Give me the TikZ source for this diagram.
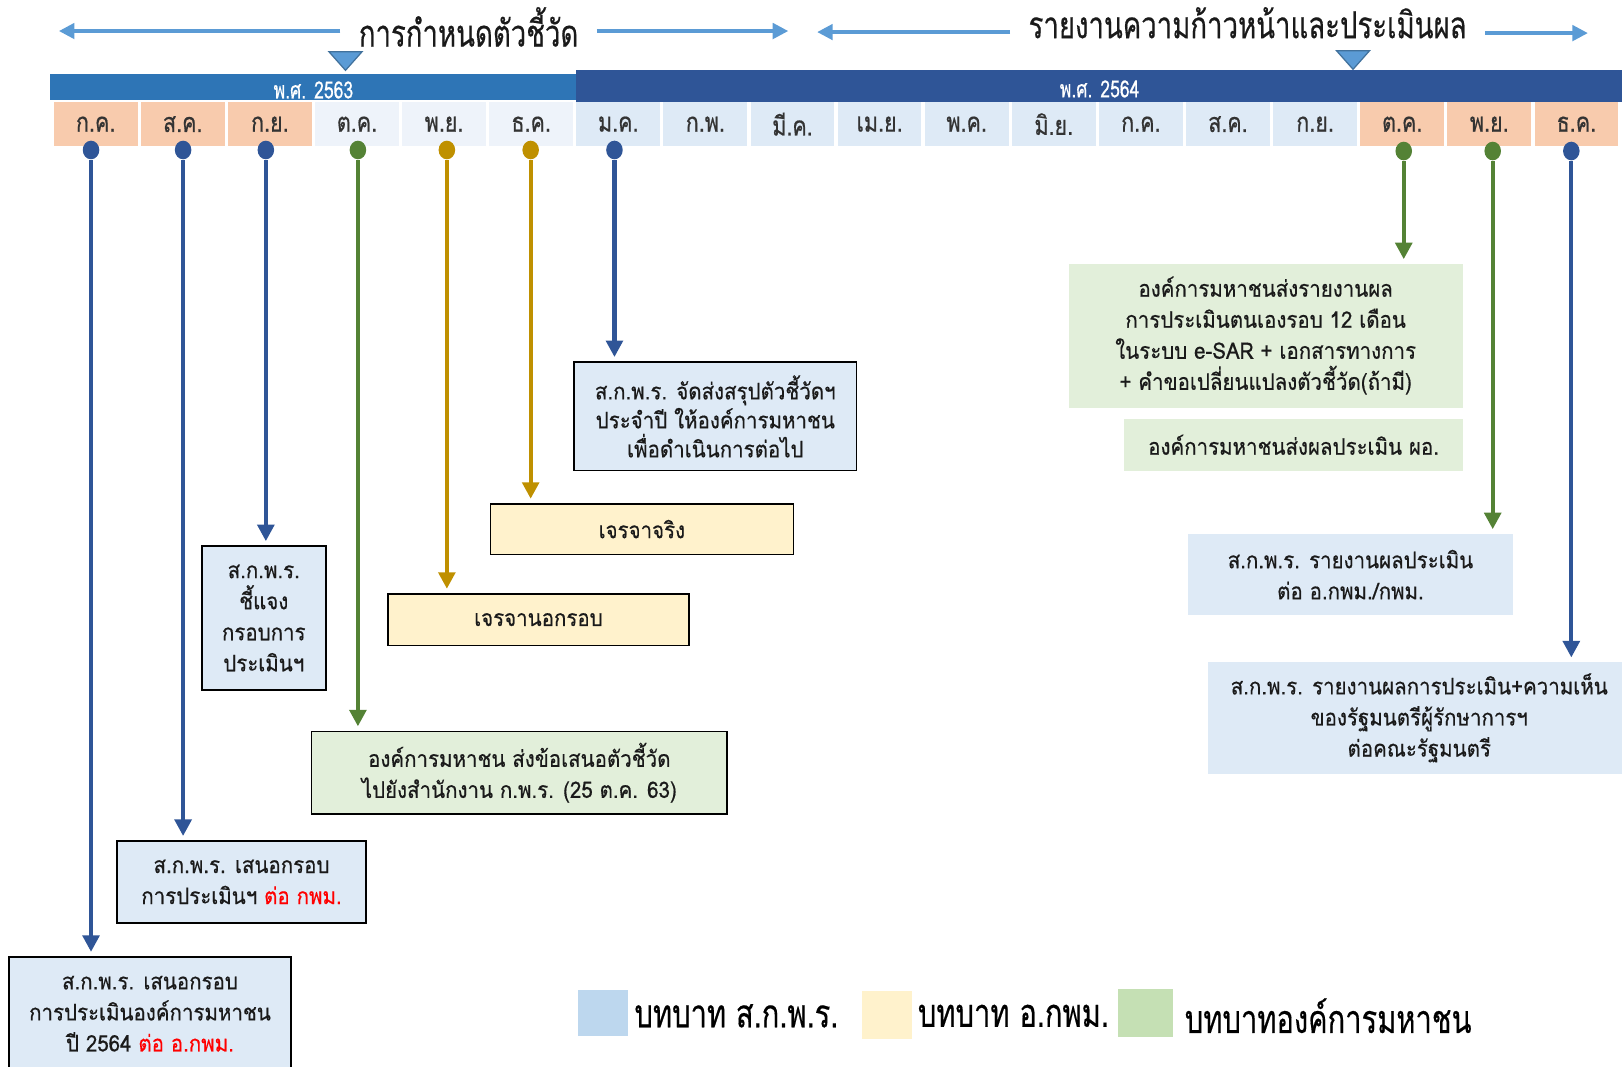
\documentclass[tikz,border=0pt]{standalone}
\usepackage{fontspec}
\usetikzlibrary{arrows.meta,calc}
\newfontfamily\thai[Script=Thai,FakeStretch=0.9,FakeBold=0.5]{Loma}
\newfontfamily\thaic[Script=Thai,FakeStretch=0.74,FakeBold=0.4]{Loma}
\newfontfamily\thaim[Script=Thai,FakeStretch=0.8,FakeBold=0.6]{Loma}
\newcommand\boxfont{\thai\fontsize{11}{15}\selectfont}
\definecolor{harrow}{HTML}{5B9BD5}
\definecolor{harrowd}{HTML}{41719C}
\definecolor{barA}{HTML}{2E75B6}
\definecolor{barB}{HTML}{2F5597}
\definecolor{peach}{HTML}{F8CBAD}
\definecolor{cellA}{HTML}{EEF3FA}
\definecolor{cellB}{HTML}{DEEAF6}
\definecolor{lblue}{HTML}{2F5597}
\definecolor{lgreen}{HTML}{548235}
\definecolor{lgold}{HTML}{BF9000}
\definecolor{fblue}{HTML}{DEEAF6}
\definecolor{fgreen}{HTML}{E2EFDA}
\definecolor{fyellow}{HTML}{FFF2CC}
\definecolor{legblue}{HTML}{BDD7EE}
\definecolor{leggreen}{HTML}{C5E0B4}
\definecolor{txt}{HTML}{1A1A1A}
\definecolor{mtxt}{HTML}{333333}
\tikzset{
  hdr/.style={font=\thaic\fontsize{18}{20}\selectfont, text=txt, inner sep=0pt, outer sep=9pt},
  harr/.style={draw=harrow, line width=1.6pt, -{Triangle[width=7.5pt,length=7.5pt]}},
  marker/.style={fill=harrow, draw=harrowd, line width=0.6pt},
  cell/.style={minimum width=40.5pt, minimum height=21pt, inner sep=0pt, font=\thaim\fontsize{13}{14}\selectfont, text=mtxt},
  yearlbl/.style={font=\thaic\fontsize{11.5}{12}\selectfont, text=white, inner sep=0pt},
  dot/.style={ellipse, minimum width=8pt, minimum height=9pt, inner sep=0pt},
  arr/.style={line width=2pt, -{Triangle[width=8pt,length=8pt]}, shorten >=2pt},
  bbox/.style={draw=black, line width=0.8pt, inner sep=0pt, align=center, font=\boxfont, text=txt},
  nbox/.style={inner sep=0pt, align=center, font=\boxfont, text=txt},
  legsq/.style={minimum width=24pt, minimum height=22pt, inner sep=0pt},
  legtxt/.style={font=\thaic\fontsize{19}{20}\selectfont, text=black, inner sep=0pt, anchor=west},
}
\usetikzlibrary{shapes.geometric}
\begin{document}
\begin{tikzpicture}[x=0.5pt,y=-0.5pt]
\useasboundingbox (0,0) rectangle (1568,1031);
% header
\node[hdr] (h1) at (453,26) {การกำหนดตัวชี้วัด};
\coordinate (h1l) at (57,30);
\coordinate (h1r) at (762,30);
\draw[harr] (h1.west |- h1l) -- (h1l);
\draw[harr] (h1.east |- h1r) -- (h1r);
\node[hdr] (h2) at (1206,22) {รายงานความก้าวหน้าและประเมินผล};
\coordinate (h2l) at (790,31);
\coordinate (h2r) at (1535,32);
\draw[harr] (h2.west |- h2l) -- (h2l);
\draw[harr] (h2.east |- h2r) -- (h2r);
% year bars
\fill[barA] (48,72) rectangle (557,97);
\fill[barB] (557,68) rectangle (1568,99);
\node[yearlbl] (y1) at (303,87) {พ.ศ. 2563};
\node[yearlbl] (y2) at (1063,86) {พ.ศ. 2564};
% markers
\path[marker] (318,50) -- (350,50) -- (334,68) -- cycle;
\path[marker] (1292,49) -- (1324,49) -- (1308,67) -- cycle;
% months
\foreach \m/\c [count=\i from 0] in {ก.ค./peach,ส.ค./peach,ก.ย./peach,ต.ค./cellA,พ.ย./cellA,ธ.ค./cellA,ม.ค./cellB,ก.พ./cellB,มี.ค./cellB,เม.ย./cellB,พ.ค./cellB,มิ.ย./cellB,ก.ค./cellB,ส.ค./cellB,ก.ย./cellB,ต.ค./peach,พ.ย./peach,ธ.ค./peach}
  \node[cell, fill=\c] (m\i) at ({52+84.2*\i+40.5},120) {\m};
% dots
\node[dot, fill=lblue] (d1) at (88,145) {};
\node[dot, fill=lblue] (d2) at (177,145) {};
\node[dot, fill=lblue] (d3) at (257,145) {};
\node[dot, fill=lgreen] (d4) at (346,145) {};
\node[dot, fill=lgold] (d5) at (432,145) {};
\node[dot, fill=lgold] (d6) at (513,145) {};
\node[dot, fill=lblue] (d7) at (594,145) {};
\node[dot, fill=lgreen] (d8) at (1357,146) {};
\node[dot, fill=lgreen] (d9) at (1443,146) {};
\node[dot, fill=lblue] (d10) at (1519,146) {};
% boxes
\node[bbox, fill=fblue, minimum width=136pt, minimum height=55pt] (b1) at (145,980)
  {ส.ก.พ.ร. เสนอกรอบ\\การประเมินองค์การมหาชน\\ปี 2564 \textcolor{red}{ต่อ อ.กพม.}};
\node[bbox, fill=fblue, minimum width=120.5pt, minimum height=39.5pt] (b2) at (233.5,852.5)
  {ส.ก.พ.ร. เสนอกรอบ\\การประเมินฯ \textcolor{red}{ต่อ กพม.}};
\node[bbox, fill=fblue, minimum width=60pt, minimum height=69.5pt] (b3) at (255,597.5)
  {ส.ก.พ.ร.\\ชี้แจง\\กรอบการ\\ประเมินฯ};
\node[bbox, fill=fgreen, minimum width=201pt, minimum height=40pt] (b4) at (502,747)
  {องค์การมหาชน ส่งข้อเสนอตัวชี้วัด\\ไปยังสำนักงาน ก.พ.ร. (25 ต.ค. 63)};
\node[bbox, fill=fyellow, minimum width=145.5pt, minimum height=25pt] (b5) at (520.5,599)
  {เจรจานอกรอบ};
\node[bbox, fill=fyellow, minimum width=146.5pt, minimum height=24.5pt] (b6) at (620.5,511.5)
  {เจรจาจริง};
\node[bbox, fill=fblue, minimum width=136.5pt, minimum height=52.5pt, font=\thai\fontsize{11}{14}\selectfont] (b7) at (691.5,402.5)
  {ส.ก.พ.ร. จัดส่งสรุปตัวชี้วัดฯ\\ประจำปี ให้องค์การมหาชน\\เพื่อดำเนินการต่อไป};
\node[nbox, fill=fgreen, minimum width=190.5pt, minimum height=69.5pt] (b8) at (1223.5,324.5)
  {องค์การมหาชนส่งรายงานผล\\การประเมินตนเองรอบ 12 เดือน\\ในระบบ e-SAR + เอกสารทางการ\\+ คำขอเปลี่ยนแปลงตัวชี้วัด(ถ้ามี)};
\node[nbox, fill=fgreen, minimum width=163.5pt, minimum height=25pt] (b8b) at (1250.5,430)
  {องค์การมหาชนส่งผลประเมิน ผอ.};
\node[nbox, fill=fblue, minimum width=157.5pt, minimum height=39.5pt] (b9) at (1305.5,555.5)
  {ส.ก.พ.ร. รายงานผลประเมิน\\ต่อ อ.กพม./กพม.};
\node[nbox, fill=fblue, minimum width=204pt, minimum height=54pt] (b10) at (1372,694)
  {ส.ก.พ.ร. รายงานผลการประเมิน+ความเห็น\\ของรัฐมนตรีผู้รักษาการฯ\\ต่อคณะรัฐมนตรี};
% connectors
\draw[arr, lblue] (d1.south) -- (d1 |- b1.north);
\draw[arr, lblue] (d2.south) -- (d2 |- b2.north);
\draw[arr, lblue] (d3.south) -- (d3 |- b3.north);
\draw[arr, lgreen] (d4.south) -- (d4 |- b4.north);
\draw[arr, lgold] (d5.south) -- (d5 |- b5.north);
\draw[arr, lgold] (d6.south) -- (d6 |- b6.north);
\draw[arr, lblue] (d7.south) -- (d7 |- b7.north);
\draw[arr, lgreen] (d8.south) -- (d8 |- b8.north);
\draw[arr, lgreen] (d9.south) -- (d9 |- b9.north);
\draw[arr, lblue] (d10.south) -- (d10 |- b10.north);
% legend
\node[legsq, fill=legblue] (l1) at (583,979.5) {};
\node[legtxt] (t1) at (613,982) {บทบาท ส.ก.พ.ร.};
\node[legsq, fill=fyellow, minimum width=24.5pt, minimum height=23pt] (l2) at (857.5,981) {};
\node[legtxt] (t2) at (887,982) {บทบาท อ.กพม.};
\node[legsq, fill=leggreen, minimum width=26.5pt, minimum height=23pt] (l3) at (1107.5,979) {};
\node[legtxt] (t3) at (1145,982) {บทบาทองค์การมหาชน};
\end{tikzpicture}
\end{document}
